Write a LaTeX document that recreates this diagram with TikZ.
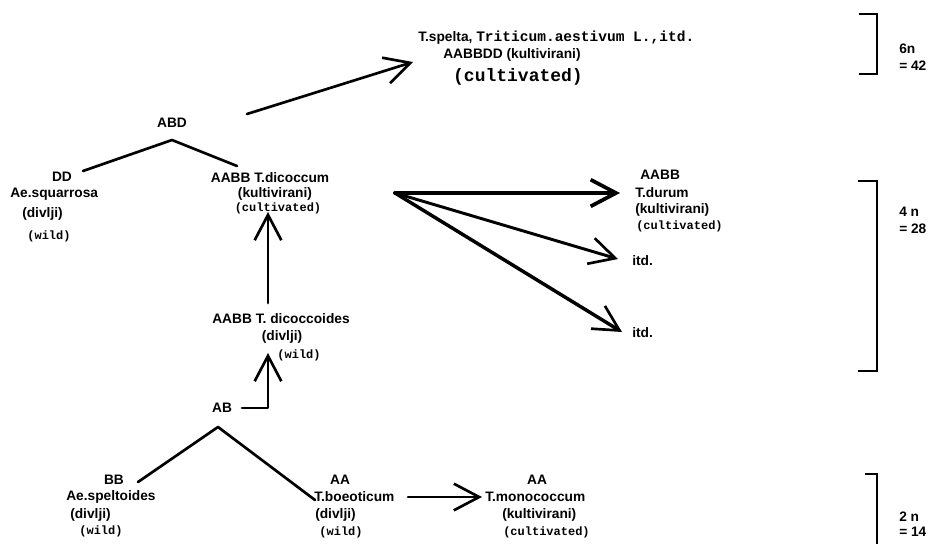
\documentclass[tikz,border=0pt]{standalone}
\usepackage{fontspec}
\setmainfont{Liberation Sans}
\newfontfamily\monof{Liberation Mono}
\usetikzlibrary{arrows.meta}
\tikzset{
  sb/.style={font=\fontsize{10.3}{12}\selectfont\bfseries, inner sep=0pt},
  tw/.style={font=\fontsize{9}{11}\monof\bfseries, inner sep=0pt},
  link/.style={line width=2pt, line cap=round, line join=round},
  arr/.style={link, -{Straight Barb[length=19pt, width=20pt, line width=2pt]}},
  bigarr/.style={line width=3pt, line cap=round, -{Straight Barb[length=19pt, width=20pt, line width=2.8pt]}},
  brack/.style={line width=2pt, line join=miter},
}
\begin{document}
\begin{tikzpicture}[x=0.75pt, y=-0.75pt]
\useasboundingbox (0,0) rectangle (937,544);
\fill[white] (0,0) rectangle (937,544);

% ---- top (hexaploid)
\node[sb, anchor=west] (spelta) at (418,38) {T.spelta, {\fontsize{10.9}{12}\monof\bfseries Triticum.aestivum L.,itd.}};
\node[sb, anchor=west] (aabbdd) at (443,55) {AABBDD (kultivirani)};
\node[tw, font=\fontsize{13.5}{15}\monof\bfseries] (cult6) at (518,77) {(cultivated)};

% ---- ABD cross
\node[sb] (abd) at (172,123) {ABD};
\coordinate (abdapex) at (172,140);
\coordinate (ddend) at (83,171);
\coordinate (dicend) at (237,166);
\coordinate (abdout) at (247,114);
\coordinate (speltatip) at (413,62);

\node[sb] (dd) at (62,177) {DD};
\node[sb, anchor=west] (squarrosa) at (10,194) {Ae.squarrosa};
\node[sb, anchor=west] (sqdiv) at (22,214) {(divlji)};
\node[tw] (sqwild) at (49,236) {(wild)};

\node[sb] (dicoccum) at (270,178) {AABB T.dicoccum};
\node[sb] (dickult) at (275,194) {(kultivirani)};
\node[tw] (diccult) at (278,208) {(cultivated)};

% ---- dicoccoides
\node[sb] (dicoccoides) at (281,319) {AABB T. dicoccoides};
\node[sb] (dcddiv) at (282,337) {(divlji)};
\node[tw] (dcdwild) at (299,355) {(wild)};
\coordinate (dcdtop) at (268,303);
\coordinate (dictip) at (268,212);
\coordinate (dcdtip) at (268,353);

% ---- AB
\node[sb] (ab) at (222,408) {AB};
\coordinate (about) at (242,408);
\coordinate (abapex) at (218,427);
\coordinate (bbend) at (138,482);
\coordinate (aaend) at (315,500);

\node[sb] (bb) at (114,480) {BB};
\node[sb, anchor=west] (speltoides) at (66,497) {Ae.speltoides};
\node[sb, anchor=west] (spdiv) at (70,515) {(divlji)};
\node[tw] (spwild) at (101,531) {(wild)};

\node[sb] (aa1) at (340,480) {AA};
\node[sb, anchor=west] (boeoticum) at (314,497) {T.boeoticum};
\node[sb, anchor=west] (bodiv) at (315,515) {(divlji)};
\node[tw] (bowild) at (341,532) {(wild)};
\coordinate (boout) at (408,497);
\coordinate (motip) at (482,497);

\node[sb] (aa2) at (537,480) {AA};
\node[sb, anchor=west] (monococcum) at (485,497) {T.monococcum};
\node[sb, anchor=west] (mokult) at (502,515) {(kultivirani)};
\node[tw, anchor=west] (mocult) at (503,532) {(cultivated)};

% ---- durum group
\coordinate (fan) at (395,193);
\coordinate (durtip) at (620,193);
\coordinate (itdtip1) at (618,259);
\coordinate (itdtip2) at (622,332);
\node[sb, anchor=west] (aabb) at (640,175) {AABB};
\node[sb, anchor=west] (durum) at (635,193) {T.durum};
\node[sb, anchor=west] (durkult) at (635,210) {(kultivirani)};
\node[tw, anchor=west] (durcult) at (636,226) {(cultivated)};
\node[sb, anchor=west] (itd1) at (632,261) {itd.};
\node[sb, anchor=west] (itd2) at (632,333) {itd.};

% ---- connectors
\draw[link] (ddend) -- (abdapex) -- (dicend);
\draw[arr] (abdout) -- (speltatip);
\draw[arr] (dcdtop) -- (dictip);
\draw[arr] (about) -| (dcdtip);
\draw[link] (bbend) -- (abapex) -- (aaend);
\draw[arr] (boout) -- (motip);
\draw[bigarr] (fan) -- (durtip);
\draw[arr, line width=2.2pt] (fan) -- (itdtip1);
\draw[arr, line width=2.6pt] (fan) -- (itdtip2);

% ---- ploidy brackets
\draw[brack] (859,14) -- (877,14) -- (877,74) -- (859,74);
\node[sb, anchor=west] (p6a) at (899,49) {6n};
\node[sb, anchor=west] (p6b) at (899,66) {= 42};
\draw[brack] (858,181) -- (877,181) -- (877,371) -- (858,371);
\node[sb, anchor=west] (p4a) at (899,212) {4 n};
\node[sb, anchor=west] (p4b) at (899,229) {= 28};
\draw[brack] (865,474) -- (877,474) -- (877,544);
\node[sb, anchor=west] (p2a) at (899,517) {2 n};
\node[sb, anchor=west] (p2b) at (899,532) {= 14};
\end{tikzpicture}
\end{document}
